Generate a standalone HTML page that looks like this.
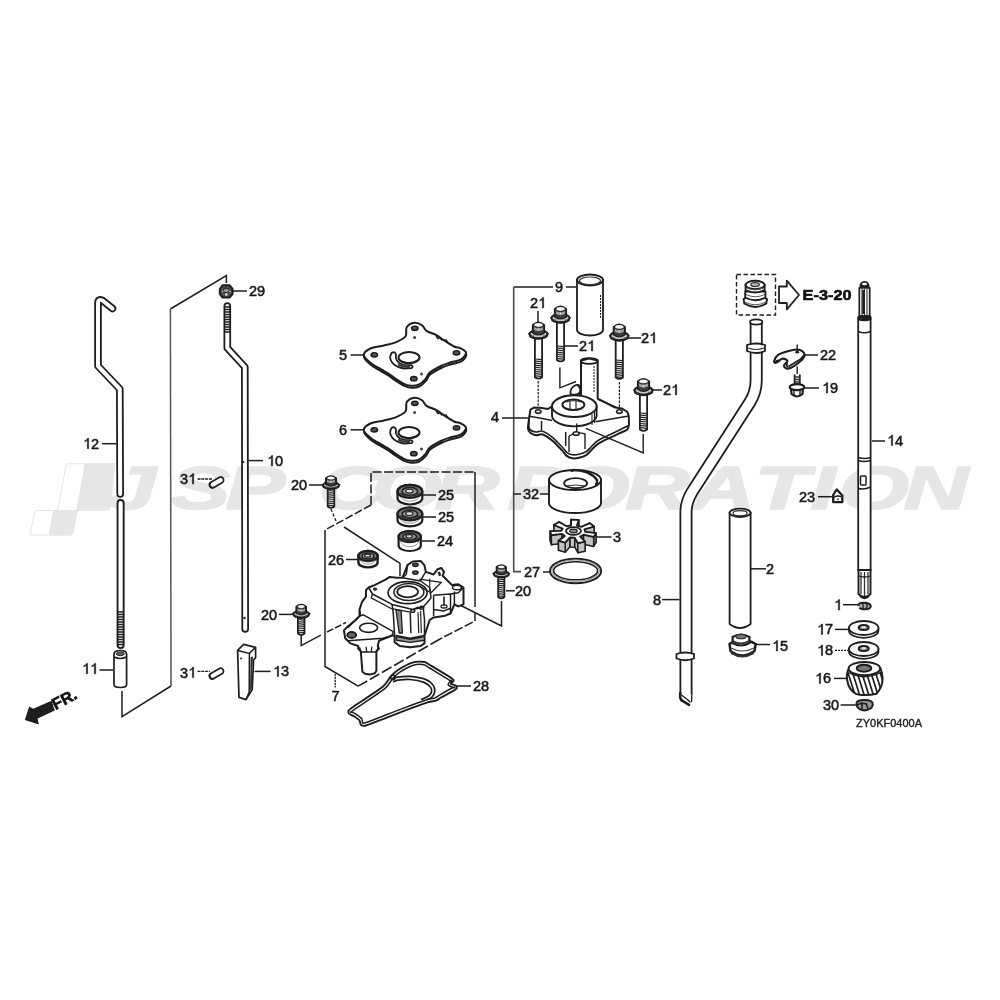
<!DOCTYPE html>
<html><head><meta charset="utf-8">
<style>
html,body{margin:0;padding:0;background:#fff;}
svg{display:block;filter:grayscale(1);}
.t{font-family:"Liberation Sans",sans-serif;font-size:14.5px;fill:#1a1a1a;text-anchor:middle;stroke:#1a1a1a;stroke-width:0.55;}
.l{stroke:#1e1e1e;stroke-width:1.5;fill:none;}
.o{stroke:#1e1e1e;stroke-width:1.7;fill:#fff;stroke-linejoin:round;}
.f{fill:#1e1e1e;stroke:none;}
</style></head>
<body>
<svg width="1000" height="1000" viewBox="0 0 1000 1000">
<rect width="1000" height="1000" fill="#fff"/>
<g fill="#e6e6e6" stroke="#e6e6e6" stroke-width="1.6" stroke-linejoin="round" font-family="Liberation Sans" font-weight="bold" font-style="italic" font-size="62">
<text transform="translate(318.3,509) scale(1.45,1)">C</text>
<text transform="translate(371.7,509) scale(1.45,1)">O</text>
<text transform="translate(434.4,509) scale(1.45,1)">R</text>
<text transform="translate(507.6,509) scale(1.45,1)">P</text>
<text transform="translate(559.7,509) scale(1.45,1)">O</text>
<text transform="translate(624.9,509) scale(1.45,1)">R</text>
<text transform="translate(690.3,509) scale(1.45,1)">A</text>
<text transform="translate(754.3,509) scale(1.45,1)">T</text>
<text transform="translate(810.4,509) scale(1.45,1)">I</text>
<text transform="translate(839.2,509) scale(1.45,1)">O</text>
<text transform="translate(903.5,509) scale(1.45,1)">N</text>
<text transform="translate(105.9,509) scale(1.45,1)">J</text>
<text transform="translate(170.3,509) scale(1.45,1)">S</text>
<text transform="translate(225.6,509) scale(1.45,1)">P</text>
<path d="M85.6,463.8 L114.4,463.8 L110.4,506 Q109.8,510.2 105.5,510.2 L77,510.2 L73,532 Q72.4,535 69,535 L49.6,535 L53.6,512.5 Q54,511 56,511 L77,511 Z"/>
</g>
<path d="M66.4,463.8 L85.6,463.8 L77,511 L56,511 Q54,511 53.6,512.5 L49.6,535 L30,535 L34.5,513 Q35,510.5 38,510.5 L57.5,510.5 Z" fill="none" stroke="#e2e2e2" stroke-width="0.9"/>
<path d="M112.5,308.5 L102.5,300.5 Q98,298.5 98,303 L98,366 L119.8,389 L120.2,494" stroke="#1e1e1e" stroke-width="7.6" fill="none" stroke-linecap="round" stroke-linejoin="round"/>
<path d="M112.5,308.5 L102.5,300.5 Q98,298.5 98,303 L98,366 L119.8,389 L120.2,494" stroke="#fff" stroke-width="4" fill="none" stroke-linecap="round" stroke-linejoin="round"/>
<path d="M120.6,503 L120.6,645" stroke="#1e1e1e" stroke-width="8" fill="none" stroke-linecap="round" stroke-linejoin="round"/>
<path d="M120.6,503 L120.6,645" stroke="#fff" stroke-width="4.2" fill="none" stroke-linecap="round" stroke-linejoin="round"/>
<path d="M117,612.0 h7 M117,614.5 h7 M117,617.0 h7 M117,619.5 h7 M117,622.0 h7 M117,624.5 h7 M117,627.0 h7 M117,629.5 h7 M117,632.0 h7 M117,634.5 h7 M117,637.0 h7 M117,639.5 h7 M117,642.0 h7 M117,644.5 h7" stroke="#1e1e1e" stroke-width="1.6" fill="none" />
<path d="M102,443.7 H116.5" stroke="#1e1e1e" stroke-width="1.5" fill="none" />
<path d="M114,654 Q114,650.5 120.3,650.5 Q126.6,650.5 126.6,654 L126.6,684.5 Q126.6,687.5 120.3,687.5 Q114,687.5 114,684.5 Z" class="o"/>
<ellipse cx="120.3" cy="653.8" rx="4.2" ry="1.8" fill="#666" stroke="#222" stroke-width="1"/>
<path d="M114.2,657 Q120.3,660 126.4,657" stroke="#1e1e1e" stroke-width="1.5" fill="none" />
<path d="M99.5,670 H113" stroke="#1e1e1e" stroke-width="1.5" fill="none" />
<path d="M226.4,283 L226.4,275.5 L170.4,309" stroke="#1e1e1e" stroke-width="1.5" fill="none" />
<path d="M170.4,309 L171,686" stroke="#555" stroke-width="1.5" fill="none"/>
<path d="M171,686 L122,716.6 L122,691" stroke="#1e1e1e" stroke-width="1.5" fill="none" />
<path d="M219.8,289 L222.5,285.3 L229.5,285.2 L232.6,289 L232.6,294 L229.5,297.6 L222.5,297.6 L219.8,294 Z" fill="#4a4a4a" stroke="#1e1e1e" stroke-width="2" stroke-linejoin="round"/>
<ellipse cx="226.2" cy="290.5" rx="3.2" ry="2" fill="#999" stroke="#222" stroke-width="1"/>
<circle cx="226.3" cy="294.5" r="1.2" fill="#eee"/><circle cx="222.5" cy="291.5" r="0.8" fill="#ccc"/><circle cx="230" cy="291.5" r="0.8" fill="#ccc"/>
<path d="M232.9,291 H247" stroke="#1e1e1e" stroke-width="1.5" fill="none" />
<path d="M227.3,306 L227.3,348 L244.8,367 L245.2,629" stroke="#1e1e1e" stroke-width="7.6" fill="none" stroke-linecap="round" stroke-linejoin="round"/>
<path d="M227.3,306 L227.3,348 L244.8,367 L245.2,629" stroke="#fff" stroke-width="4" fill="none" stroke-linecap="round" stroke-linejoin="round"/>
<path d="M224,307.0 h6.6 M224,309.5 h6.6 M224,312.0 h6.6 M224,314.5 h6.6 M224,317.0 h6.6 M224,319.5 h6.6 M224,322.0 h6.6 M224,324.5 h6.6 M224,327.0 h6.6 M224,329.5 h6.6 M224,332.0 h6.6" stroke="#1e1e1e" stroke-width="1.6" fill="none" />
<path d="M248.5,460.6 H263" stroke="#1e1e1e" stroke-width="1.5" fill="none" />
<circle cx="243.5" cy="462" r="1" class="f"/><circle cx="244.5" cy="618" r="1.2" class="f"/>
<g transform="translate(216.7,482.3) rotate(-30)"><rect x="-7.5" y="-3" width="15" height="6" rx="3" class="o" stroke-width="1.6"/><path d="M-5,-3 a3,3 0 0 0 0,6" class="l" stroke-width="2"/></g>
<g transform="translate(216.6,673.5) rotate(-30)"><rect x="-7.5" y="-3" width="15" height="6" rx="3" class="o" stroke-width="1.6"/><path d="M-5,-3 a3,3 0 0 0 0,6" class="l" stroke-width="2"/></g>
<path d="M197.5,479 H212" stroke="#1e1e1e" stroke-width="1.3" fill="none" stroke-dasharray="3 0.8"/>
<path d="M197.5,671.4 H210" stroke="#1e1e1e" stroke-width="1.3" fill="none" stroke-dasharray="3 0.8"/>
<path d="M237.6,650.4 L243.6,644.4 L255.6,647.4 L255.6,657.6 L253.6,660 L252.2,689.5 L246,699.6 L239,697.4 Z" class="o" stroke-width="1.9"/>
<path d="M237.6,650.4 L249.4,653.4 L255.6,647.4 M249.4,653.4 L249.2,692 L246,699.6" stroke="#1e1e1e" stroke-width="1.5" fill="none" />
<path d="M250.6,657 L253,656.5 L251.8,688 L250,691 Z" fill="#333"/>
<circle cx="241" cy="658.5" r="0.9" class="f"/>
<path d="M254.5,671.4 H270.6" stroke="#1e1e1e" stroke-width="1.5" fill="none" />
<path d="M24.8,720 L29.2,706.4 L33.2,708.8 L51.6,700.8 L54.8,710.4 L37.6,718.4 L38.8,724.4 Z" class="f"/>
<text x="0" y="0" transform="translate(55.5,710) rotate(-28)" font-family="Liberation Sans" font-weight="bold" font-size="16" fill="#111" stroke="#111" stroke-width="0.6">FR.</text>
<text class="t" x="252.97" y="296.0">2</text><text class="t" x="261.03" y="296.0">9</text>
<path d="M88.62,448.70 L88.62,438.32 L87.58,438.32 L87.14,439.13 L86.13,440.00 L84.82,440.65 L84.82,441.67 L86.13,441.09 L87.33,440.22 L87.33,448.70 Z" fill="#1a1a1a" stroke="#1a1a1a" stroke-width="0.55" stroke-linejoin="round"/><text class="t" x="95.03" y="448.7">2</text>
<path d="M272.62,466.00 L272.62,455.62 L271.58,455.62 L271.14,456.43 L270.13,457.30 L268.82,457.95 L268.82,458.97 L270.13,458.39 L271.33,457.52 L271.33,466.00 Z" fill="#1a1a1a" stroke="#1a1a1a" stroke-width="0.55" stroke-linejoin="round"/><text class="t" x="279.03" y="466.0">0</text>
<text class="t" x="183.97" y="484.0">3</text><path d="M193.68,484.00 L193.68,473.62 L192.64,473.62 L192.20,474.43 L191.19,475.30 L189.88,475.95 L189.88,476.97 L191.19,476.39 L192.39,475.52 L192.39,484.00 Z" fill="#1a1a1a" stroke="#1a1a1a" stroke-width="0.55" stroke-linejoin="round"/>
<text class="t" x="294.97" y="490.0">2</text><text class="t" x="303.03" y="490.0">0</text>
<text class="t" x="264.97" y="620.0">2</text><text class="t" x="273.03" y="620.0">0</text>
<path d="M87.62,673.80 L87.62,663.42 L86.58,663.42 L86.14,664.23 L85.13,665.10 L83.82,665.75 L83.82,666.77 L85.13,666.19 L86.33,665.32 L86.33,673.80 Z" fill="#1a1a1a" stroke="#1a1a1a" stroke-width="0.55" stroke-linejoin="round"/><path d="M95.68,673.80 L95.68,663.42 L94.64,663.42 L94.21,664.23 L93.19,665.10 L91.89,665.75 L91.89,666.77 L93.19,666.19 L94.39,665.32 L94.39,673.80 Z" fill="#1a1a1a" stroke="#1a1a1a" stroke-width="0.55" stroke-linejoin="round"/>
<text class="t" x="183.97" y="677.6">3</text><path d="M193.68,677.60 L193.68,667.22 L192.64,667.22 L192.20,668.03 L191.19,668.90 L189.88,669.55 L189.88,670.57 L191.19,669.99 L192.39,669.12 L192.39,677.60 Z" fill="#1a1a1a" stroke="#1a1a1a" stroke-width="0.55" stroke-linejoin="round"/>
<path d="M278.62,676.40 L278.62,666.02 L277.58,666.02 L277.14,666.83 L276.13,667.70 L274.82,668.35 L274.82,669.37 L276.13,668.79 L277.33,667.92 L277.33,676.40 Z" fill="#1a1a1a" stroke="#1a1a1a" stroke-width="0.55" stroke-linejoin="round"/><text class="t" x="285.03" y="676.4">3</text>
<text class="t" x="343.00" y="360.0">5</text>
<text class="t" x="343.00" y="435.0">6</text>
<text class="t" x="441.97" y="500.0">2</text><text class="t" x="450.03" y="500.0">5</text>
<text class="t" x="441.97" y="522.0">2</text><text class="t" x="450.03" y="522.0">5</text>
<text class="t" x="440.97" y="546.0">2</text><text class="t" x="449.03" y="546.0">4</text>
<text class="t" x="331.97" y="565.0">2</text><text class="t" x="340.03" y="565.0">6</text>
<text class="t" x="335.50" y="701.0">7</text>
<text class="t" x="476.97" y="691.0">2</text><text class="t" x="485.03" y="691.0">8</text>
<text class="t" x="559.00" y="292.0">9</text>
<text class="t" x="533.97" y="308.0">2</text><path d="M543.68,308.00 L543.68,297.62 L542.64,297.62 L542.20,298.43 L541.19,299.30 L539.88,299.95 L539.88,300.97 L541.19,300.39 L542.39,299.52 L542.39,308.00 Z" fill="#1a1a1a" stroke="#1a1a1a" stroke-width="0.55" stroke-linejoin="round"/>
<text class="t" x="582.97" y="351.0">2</text><path d="M592.68,351.00 L592.68,340.62 L591.64,340.62 L591.20,341.43 L590.19,342.30 L588.88,342.95 L588.88,343.97 L590.19,343.39 L591.39,342.52 L591.39,351.00 Z" fill="#1a1a1a" stroke="#1a1a1a" stroke-width="0.55" stroke-linejoin="round"/>
<text class="t" x="644.97" y="343.0">2</text><path d="M654.68,343.00 L654.68,332.62 L653.64,332.62 L653.20,333.43 L652.19,334.30 L650.88,334.95 L650.88,335.97 L652.19,335.39 L653.39,334.52 L653.39,343.00 Z" fill="#1a1a1a" stroke="#1a1a1a" stroke-width="0.55" stroke-linejoin="round"/>
<text class="t" x="666.97" y="395.0">2</text><path d="M676.68,395.00 L676.68,384.62 L675.64,384.62 L675.20,385.43 L674.19,386.30 L672.88,386.95 L672.88,387.97 L674.19,387.39 L675.39,386.52 L675.39,395.00 Z" fill="#1a1a1a" stroke="#1a1a1a" stroke-width="0.55" stroke-linejoin="round"/>
<text class="t" x="495.00" y="422.0">4</text>
<text class="t" x="526.97" y="499.0">3</text><text class="t" x="535.03" y="499.0">2</text>
<text class="t" x="617.00" y="542.0">3</text>
<text class="t" x="527.97" y="577.0">2</text><text class="t" x="536.03" y="577.0">7</text>
<text class="t" x="518.97" y="596.0">2</text><text class="t" x="527.03" y="596.0">0</text>
<text class="t" x="657.00" y="605.0">8</text>
<text class="t" x="770.00" y="574.0">2</text>
<path d="M777.62,651.00 L777.62,640.62 L776.58,640.62 L776.14,641.43 L775.13,642.30 L773.82,642.95 L773.82,643.97 L775.13,643.39 L776.33,642.52 L776.33,651.00 Z" fill="#1a1a1a" stroke="#1a1a1a" stroke-width="0.55" stroke-linejoin="round"/><text class="t" x="784.03" y="651.0">5</text>
<text class="t" x="823.97" y="360.0">2</text><text class="t" x="832.03" y="360.0">2</text>
<path d="M827.62,393.00 L827.62,382.62 L826.58,382.62 L826.14,383.43 L825.13,384.30 L823.82,384.95 L823.82,385.97 L825.13,385.39 L826.33,384.52 L826.33,393.00 Z" fill="#1a1a1a" stroke="#1a1a1a" stroke-width="0.55" stroke-linejoin="round"/><text class="t" x="834.03" y="393.0">9</text>
<path d="M892.62,445.50 L892.62,435.12 L891.58,435.12 L891.14,435.93 L890.13,436.80 L888.82,437.45 L888.82,438.47 L890.13,437.89 L891.33,437.02 L891.33,445.50 Z" fill="#1a1a1a" stroke="#1a1a1a" stroke-width="0.55" stroke-linejoin="round"/><text class="t" x="899.03" y="445.5">4</text>
<text class="t" x="802.97" y="502.0">2</text><text class="t" x="811.03" y="502.0">3</text>
<path d="M839.65,610.00 L839.65,599.62 L838.61,599.62 L838.17,600.43 L837.16,601.30 L835.85,601.95 L835.85,602.97 L837.16,602.39 L838.36,601.52 L838.36,610.00 Z" fill="#1a1a1a" stroke="#1a1a1a" stroke-width="0.55" stroke-linejoin="round"/>
<path d="M822.62,634.40 L822.62,624.02 L821.58,624.02 L821.14,624.83 L820.13,625.70 L818.82,626.35 L818.82,627.37 L820.13,626.79 L821.33,625.92 L821.33,634.40 Z" fill="#1a1a1a" stroke="#1a1a1a" stroke-width="0.55" stroke-linejoin="round"/><text class="t" x="829.03" y="634.4">7</text>
<path d="M822.62,655.40 L822.62,645.02 L821.58,645.02 L821.14,645.83 L820.13,646.70 L818.82,647.35 L818.82,648.37 L820.13,647.79 L821.33,646.92 L821.33,655.40 Z" fill="#1a1a1a" stroke="#1a1a1a" stroke-width="0.55" stroke-linejoin="round"/><text class="t" x="829.03" y="655.4">8</text>
<path d="M820.62,683.40 L820.62,673.02 L819.58,673.02 L819.14,673.83 L818.13,674.70 L816.82,675.35 L816.82,676.37 L818.13,675.79 L819.33,674.92 L819.33,683.40 Z" fill="#1a1a1a" stroke="#1a1a1a" stroke-width="0.55" stroke-linejoin="round"/><text class="t" x="827.03" y="683.4">6</text>
<text class="t" x="826.97" y="710.0">3</text><text class="t" x="835.03" y="710.0">0</text>
<text x="856" y="726.5" font-family="Liberation Sans" font-size="11" fill="#1a1a1a" stroke="#1a1a1a" stroke-width="0.35" textLength="66" lengthAdjust="spacingAndGlyphs">ZY0KF0400A</text>
<text x="802.6" y="300.2" font-family="Liberation Sans" font-weight="bold" font-size="15" fill="#111" stroke="#111" stroke-width="0.6" textLength="49" lengthAdjust="spacingAndGlyphs">E-3-20</text>
<g transform="translate(0,0)">
<path d="M363.8,355.0 C363.8,352.6 367.0,350.1 370.4,348.5 C373.8,346.9 379.6,346.6 384.0,345.5 C388.4,344.4 393.2,343.3 396.8,341.8 C400.4,340.3 403.9,338.8 405.6,336.3 C407.3,333.8 405.3,329.3 406.8,327.0 C408.3,324.7 411.9,323.0 414.4,322.7 C416.9,322.4 420.0,323.9 422.0,325.3 C424.0,326.7 424.1,329.2 426.5,330.8 C428.9,332.4 433.6,333.7 436.4,335.2 C439.1,336.7 440.1,337.7 443.0,339.6 C445.9,341.5 451.1,345.1 454.0,346.5 C456.9,347.9 458.6,347.2 460.6,348.3 C462.6,349.4 465.9,351.0 466.0,352.8 C466.1,354.6 463.7,357.8 461.0,359.4 C458.3,361.0 453.4,361.4 450.0,362.5 C446.6,363.6 444.2,364.3 440.8,366.0 C437.4,367.7 432.4,370.4 429.8,372.6 C427.2,374.8 427.2,377.2 425.4,379.2 C423.6,381.2 421.2,383.6 418.8,384.7 C416.4,385.8 413.6,386.0 411.0,385.8 C408.4,385.6 406.1,384.9 403.4,383.6 C400.7,382.3 396.8,379.6 394.6,378.1 C392.4,376.6 392.8,376.5 390.2,374.8 C387.6,373.1 382.5,370.2 379.2,368.2 C375.9,366.2 373.0,364.9 370.4,362.7 C367.8,360.5 363.8,357.4 363.8,355.0 Z" transform="translate(0.3,2)" fill="#fff" stroke="#1e1e1e" stroke-width="2" stroke-linejoin="round"/>
<path d="M363.8,355.0 C363.8,352.6 367.0,350.1 370.4,348.5 C373.8,346.9 379.6,346.6 384.0,345.5 C388.4,344.4 393.2,343.3 396.8,341.8 C400.4,340.3 403.9,338.8 405.6,336.3 C407.3,333.8 405.3,329.3 406.8,327.0 C408.3,324.7 411.9,323.0 414.4,322.7 C416.9,322.4 420.0,323.9 422.0,325.3 C424.0,326.7 424.1,329.2 426.5,330.8 C428.9,332.4 433.6,333.7 436.4,335.2 C439.1,336.7 440.1,337.7 443.0,339.6 C445.9,341.5 451.1,345.1 454.0,346.5 C456.9,347.9 458.6,347.2 460.6,348.3 C462.6,349.4 465.9,351.0 466.0,352.8 C466.1,354.6 463.7,357.8 461.0,359.4 C458.3,361.0 453.4,361.4 450.0,362.5 C446.6,363.6 444.2,364.3 440.8,366.0 C437.4,367.7 432.4,370.4 429.8,372.6 C427.2,374.8 427.2,377.2 425.4,379.2 C423.6,381.2 421.2,383.6 418.8,384.7 C416.4,385.8 413.6,386.0 411.0,385.8 C408.4,385.6 406.1,384.9 403.4,383.6 C400.7,382.3 396.8,379.6 394.6,378.1 C392.4,376.6 392.8,376.5 390.2,374.8 C387.6,373.1 382.5,370.2 379.2,368.2 C375.9,366.2 373.0,364.9 370.4,362.7 C367.8,360.5 363.8,357.4 363.8,355.0 Z" fill="#fff" stroke="#1e1e1e" stroke-width="2" stroke-linejoin="round"/>
<path d="M436,336 l2,2.5 l2,-1 l2,3 M444,341 l2,-1 l2,3 M380,369 l1.5,2.5 l2,-1.5 M392,376 l1,3 l2,-1" fill="none" stroke="#1e1e1e" stroke-width="1.4"/>
<ellipse cx="374.3" cy="354.8" rx="3.2" ry="2.1" fill="#555" stroke="#1e1e1e" stroke-width="1.6"/>
<ellipse cx="456.5" cy="352.8" rx="3.2" ry="2.1" fill="#555" stroke="#1e1e1e" stroke-width="1.6"/>
<ellipse cx="414.8" cy="328.3" rx="3.2" ry="2.1" fill="#555" stroke="#1e1e1e" stroke-width="1.6"/>
<ellipse cx="413.8" cy="378.7" rx="3.2" ry="2.1" fill="#555" stroke="#1e1e1e" stroke-width="1.6"/>
<circle cx="414.6" cy="337.6" r="1.5" fill="#444"/><circle cx="421.5" cy="374" r="1.5" fill="#444"/>
<ellipse cx="409" cy="357.6" rx="10.5" ry="5.7" fill="#fff" stroke="#1e1e1e" stroke-width="2"/>
<path d="M399,360 Q409,366.5 419.5,359" fill="none" stroke="#1e1e1e" stroke-width="1.6"/>
<path d="M391.5,353 C388,359 392,366.5 404,368.5 L411.5,368.2 Q414,366.5 411,365.2 L404.5,364.8 C397,363.5 395,358.5 396,354.5 Q395,351 391.5,353 Z" fill="#fff" stroke="#1e1e1e" stroke-width="1.8" stroke-linejoin="round"/>
<path d="M398,364.5 Q402,367 410,367" fill="none" stroke="#333" stroke-width="2"/>
</g>
<g transform="translate(0,75)">
<path d="M363.8,355.0 C363.8,352.6 367.0,350.1 370.4,348.5 C373.8,346.9 379.6,346.6 384.0,345.5 C388.4,344.4 393.2,343.3 396.8,341.8 C400.4,340.3 403.9,338.8 405.6,336.3 C407.3,333.8 405.3,329.3 406.8,327.0 C408.3,324.7 411.9,323.0 414.4,322.7 C416.9,322.4 420.0,323.9 422.0,325.3 C424.0,326.7 424.1,329.2 426.5,330.8 C428.9,332.4 433.6,333.7 436.4,335.2 C439.1,336.7 440.1,337.7 443.0,339.6 C445.9,341.5 451.1,345.1 454.0,346.5 C456.9,347.9 458.6,347.2 460.6,348.3 C462.6,349.4 465.9,351.0 466.0,352.8 C466.1,354.6 463.7,357.8 461.0,359.4 C458.3,361.0 453.4,361.4 450.0,362.5 C446.6,363.6 444.2,364.3 440.8,366.0 C437.4,367.7 432.4,370.4 429.8,372.6 C427.2,374.8 427.2,377.2 425.4,379.2 C423.6,381.2 421.2,383.6 418.8,384.7 C416.4,385.8 413.6,386.0 411.0,385.8 C408.4,385.6 406.1,384.9 403.4,383.6 C400.7,382.3 396.8,379.6 394.6,378.1 C392.4,376.6 392.8,376.5 390.2,374.8 C387.6,373.1 382.5,370.2 379.2,368.2 C375.9,366.2 373.0,364.9 370.4,362.7 C367.8,360.5 363.8,357.4 363.8,355.0 Z" transform="translate(0.3,2)" fill="#fff" stroke="#1e1e1e" stroke-width="2" stroke-linejoin="round"/>
<path d="M363.8,355.0 C363.8,352.6 367.0,350.1 370.4,348.5 C373.8,346.9 379.6,346.6 384.0,345.5 C388.4,344.4 393.2,343.3 396.8,341.8 C400.4,340.3 403.9,338.8 405.6,336.3 C407.3,333.8 405.3,329.3 406.8,327.0 C408.3,324.7 411.9,323.0 414.4,322.7 C416.9,322.4 420.0,323.9 422.0,325.3 C424.0,326.7 424.1,329.2 426.5,330.8 C428.9,332.4 433.6,333.7 436.4,335.2 C439.1,336.7 440.1,337.7 443.0,339.6 C445.9,341.5 451.1,345.1 454.0,346.5 C456.9,347.9 458.6,347.2 460.6,348.3 C462.6,349.4 465.9,351.0 466.0,352.8 C466.1,354.6 463.7,357.8 461.0,359.4 C458.3,361.0 453.4,361.4 450.0,362.5 C446.6,363.6 444.2,364.3 440.8,366.0 C437.4,367.7 432.4,370.4 429.8,372.6 C427.2,374.8 427.2,377.2 425.4,379.2 C423.6,381.2 421.2,383.6 418.8,384.7 C416.4,385.8 413.6,386.0 411.0,385.8 C408.4,385.6 406.1,384.9 403.4,383.6 C400.7,382.3 396.8,379.6 394.6,378.1 C392.4,376.6 392.8,376.5 390.2,374.8 C387.6,373.1 382.5,370.2 379.2,368.2 C375.9,366.2 373.0,364.9 370.4,362.7 C367.8,360.5 363.8,357.4 363.8,355.0 Z" fill="#fff" stroke="#1e1e1e" stroke-width="2" stroke-linejoin="round"/>
<path d="M436,336 l2,2.5 l2,-1 l2,3 M444,341 l2,-1 l2,3 M380,369 l1.5,2.5 l2,-1.5 M392,376 l1,3 l2,-1" fill="none" stroke="#1e1e1e" stroke-width="1.4"/>
<ellipse cx="374.3" cy="354.8" rx="3.2" ry="2.1" fill="#555" stroke="#1e1e1e" stroke-width="1.6"/>
<ellipse cx="456.5" cy="352.8" rx="3.2" ry="2.1" fill="#555" stroke="#1e1e1e" stroke-width="1.6"/>
<ellipse cx="414.8" cy="328.3" rx="3.2" ry="2.1" fill="#555" stroke="#1e1e1e" stroke-width="1.6"/>
<ellipse cx="413.8" cy="378.7" rx="3.2" ry="2.1" fill="#555" stroke="#1e1e1e" stroke-width="1.6"/>
<circle cx="414.6" cy="337.6" r="1.5" fill="#444"/><circle cx="421.5" cy="374" r="1.5" fill="#444"/>
<ellipse cx="409" cy="357.6" rx="10.5" ry="5.7" fill="#fff" stroke="#1e1e1e" stroke-width="2"/>
<path d="M399,360 Q409,366.5 419.5,359" fill="none" stroke="#1e1e1e" stroke-width="1.6"/>
<path d="M391.5,353 C388,359 392,366.5 404,368.5 L411.5,368.2 Q414,366.5 411,365.2 L404.5,364.8 C397,363.5 395,358.5 396,354.5 Q395,351 391.5,353 Z" fill="#fff" stroke="#1e1e1e" stroke-width="1.8" stroke-linejoin="round"/>
<path d="M398,364.5 Q402,367 410,367" fill="none" stroke="#333" stroke-width="2"/>
</g>
<path d="M350.6,355 H363.5" stroke="#1e1e1e" stroke-width="1.5" fill="none" />
<path d="M350.6,429.8 H363" stroke="#1e1e1e" stroke-width="1.5" fill="none" />
<path d="M371,505 L371,472 L475,472" stroke="#1e1e1e" stroke-width="1.5" fill="none" stroke-dasharray="9 2.5"/>
<path d="M475,472 L475,607" stroke="#1e1e1e" stroke-width="1.5" fill="none" />
<path d="M475,612 L475,621 L440,639" stroke="#1e1e1e" stroke-width="1.5" fill="none" stroke-dasharray="9 2.5"/>
<path d="M440,639 L358.2,686.2" stroke="#1e1e1e" stroke-width="1.5" fill="none" stroke-dasharray="11 3"/>
<path d="M371,505 L325,530" stroke="#1e1e1e" stroke-width="1.5" fill="none" stroke-dasharray="8 2.5"/>
<path d="M325,530 L325,666.5 L358.2,686.2" stroke="#1e1e1e" stroke-width="1.5" fill="none" />
<path d="M335.2,674 L335.2,687.5" stroke="#1e1e1e" stroke-width="1.3" fill="none" stroke-dasharray="2.2 0.8"/>
<path d="M331,509 L336,521" stroke="#1e1e1e" stroke-width="1.3" fill="none" stroke-dasharray="3 2"/>
<path d="M344,527 L400,563.4 L400,576" stroke="#1e1e1e" stroke-width="1.5" fill="none" />
<path d="M301.2,635.2 L301.2,645.6 L320.8,635.2" stroke="#1e1e1e" stroke-width="1.5" fill="none" />
<path d="M327,632 L346,622.5" stroke="#1e1e1e" stroke-width="1.5" fill="none" stroke-dasharray="7 2"/>
<path d="M501.5,601 L501.5,626 L448,599" stroke="#1e1e1e" stroke-width="1.5" fill="none" />
<path d="M327.7,488.5 L327.7,506.5 Q331,509.2 334.3,506.5 L334.3,488.5" fill="#fff" stroke="#1e1e1e" stroke-width="1.8"/><path d="M328.09999999999997,490.5 L333.90000000000003,491.1 M328.09999999999997,492.6 L333.90000000000003,493.2 M328.09999999999997,494.7 L333.90000000000003,495.3 M328.09999999999997,496.8 L333.90000000000003,497.4 M328.09999999999997,498.9 L333.90000000000003,499.5 M328.09999999999997,501.0 L333.90000000000003,501.6 M328.09999999999997,503.1 L333.90000000000003,503.7 M328.09999999999997,505.2 L333.90000000000003,505.8" stroke="#222" stroke-width="1.2"/><path d="M323,485.2 L324,487.2 Q331,490.7 338,487.2 L339,485.2 Z" fill="#fff" stroke="#1e1e1e" stroke-width="2"/><ellipse cx="331" cy="485.2" rx="8" ry="3.3" fill="#c8c8c8" stroke="#1e1e1e" stroke-width="2"/><path d="M326.0,478.2 L326.0,484.1 Q331,487.2 336.0,484.1 L336.0,478.2 Q331,474.3 326.0,478.2 Z" fill="#a0a0a0" stroke="#1e1e1e" stroke-width="2"/><ellipse cx="331" cy="478.3" rx="3.6" ry="1.7" fill="#f4f4f4"/><path d="M330.2,480.9 L331.8,480.9 L331,482.9 Z" fill="#eee"/><path d="M326.5,481.7 Q331,484.4 335.5,481.7 L335.5,484.1 Q331,487.2 326.5,484.1 Z" fill="#3a3a3a"/><path d="M326.8,479.0 Q331,481.3 335.2,479.0" fill="none" stroke="#333" stroke-width="1.3"/><path d="M324.5,486.4 Q327.0,488.2 326.0,486.7 M337.5,486.4 Q335.0,488.2 336.0,486.7" fill="none" stroke="#444" stroke-width="1.2"/>
<path d="M297.9,617.5 L297.9,633.5 Q301.2,636.2 304.5,633.5 L304.5,617.5" fill="#fff" stroke="#1e1e1e" stroke-width="1.8"/><path d="M298.29999999999995,619.5 L304.1,620.1 M298.29999999999995,621.6 L304.1,622.2 M298.29999999999995,623.7 L304.1,624.3 M298.29999999999995,625.8 L304.1,626.4 M298.29999999999995,627.9 L304.1,628.5 M298.29999999999995,630.0 L304.1,630.6 M298.29999999999995,632.1 L304.1,632.7" stroke="#222" stroke-width="1.2"/><path d="M293.4,614.1 L294.4,616.1 Q301.2,619.7 308.0,616.1 L309.0,614.1 Z" fill="#fff" stroke="#1e1e1e" stroke-width="2"/><ellipse cx="301.2" cy="614.1" rx="7.8" ry="3.4" fill="#c8c8c8" stroke="#1e1e1e" stroke-width="2"/><path d="M296.4,606.8 L296.4,612.9 Q301.2,616.1 306.0,612.9 L306.0,606.8 Q301.2,602.8 296.4,606.8 Z" fill="#a0a0a0" stroke="#1e1e1e" stroke-width="2"/><ellipse cx="301.2" cy="606.9" rx="3.4" ry="1.8" fill="#f4f4f4"/><path d="M300.4,609.6 L302.0,609.6 L301.2,611.7 Z" fill="#eee"/><path d="M296.9,610.4 Q301.2,613.3 305.5,610.4 L305.5,612.9 Q301.2,616.1 296.9,612.9 Z" fill="#3a3a3a"/><path d="M297.2,607.6 Q301.2,610.0 305.2,607.6" fill="none" stroke="#333" stroke-width="1.3"/><path d="M294.9,615.3 Q297.3,617.1 296.4,615.6 M307.5,615.3 Q305.1,617.1 306.0,615.6" fill="none" stroke="#444" stroke-width="1.2"/>
<path d="M498.2,577.0 L498.2,597.0 Q501.3,599.7 504.40000000000003,597.0 L504.40000000000003,577.0" fill="#fff" stroke="#1e1e1e" stroke-width="1.8"/><path d="M498.59999999999997,579.0 L504.00000000000006,579.6 M498.59999999999997,581.1 L504.00000000000006,581.7 M498.59999999999997,583.2 L504.00000000000006,583.8 M498.59999999999997,585.3 L504.00000000000006,585.9 M498.59999999999997,587.4 L504.00000000000006,588.0 M498.59999999999997,589.5 L504.00000000000006,590.1 M498.59999999999997,591.6 L504.00000000000006,592.2 M498.59999999999997,593.7 L504.00000000000006,594.3 M498.59999999999997,595.8 L504.00000000000006,596.4" stroke="#222" stroke-width="1.2"/><path d="M493.90000000000003,573.9 L494.90000000000003,575.8 Q501.3,579.1 507.7,575.8 L508.7,573.9 Z" fill="#fff" stroke="#1e1e1e" stroke-width="2"/><ellipse cx="501.3" cy="573.9" rx="7.4" ry="3.2" fill="#c8c8c8" stroke="#1e1e1e" stroke-width="2"/><path d="M496.7,567.1 L496.7,572.8 Q501.3,575.8 505.9,572.8 L505.9,567.1 Q501.3,563.4 496.7,567.1 Z" fill="#a0a0a0" stroke="#1e1e1e" stroke-width="2"/><ellipse cx="501.3" cy="567.2" rx="3.2" ry="1.7" fill="#f4f4f4"/><path d="M500.5,569.8 L502.1,569.8 L501.3,571.6 Z" fill="#eee"/><path d="M497.2,570.5 Q501.3,573.1 505.4,570.5 L505.4,572.8 Q501.3,575.8 497.2,572.8 Z" fill="#3a3a3a"/><path d="M497.5,567.9 Q501.3,570.1 505.1,567.9" fill="none" stroke="#333" stroke-width="1.3"/><path d="M495.4,575.1 Q497.6,576.7 496.7,575.4 M507.2,575.1 Q505.0,576.7 505.9,575.4" fill="none" stroke="#444" stroke-width="1.2"/>
<path d="M309,485 H323" stroke="#1e1e1e" stroke-width="1.5" fill="none" />
<path d="M279,614.4 H293.5" stroke="#1e1e1e" stroke-width="1.5" fill="none" />
<path d="M506,590.8 H514.8" stroke="#1e1e1e" stroke-width="1.5" fill="none" />
<path d="M397.5,491.4 L397.5,497.9 A12.4,6.6 0 0 0 422.29999999999995,497.9 L422.29999999999995,491.4 A12.4,6.6 0 0 0 397.5,491.4 Z" fill="#fff" stroke="#1e1e1e" stroke-width="2.2"/>
<path d="M399.5,494.65 A10.4,6.6 0 0 0 420.29999999999995,494.65" fill="none" stroke="#999" stroke-width="1"/>
<ellipse cx="409.9" cy="491.4" rx="12.4" ry="6.6" fill="#7a7a7a" stroke="#1e1e1e" stroke-width="2.2"/>
<ellipse cx="409.9" cy="491.4" rx="7.7" ry="4.0" fill="#9a9a9a" stroke="#222" stroke-width="1.6"/>
<ellipse cx="409.4" cy="491.09999999999997" rx="3.7" ry="2.0" fill="#ddd" stroke="#222" stroke-width="1.2"/>
<path d="M400.0,493.4 Q409.9,498.7 419.8,493.4" fill="none" stroke="#333" stroke-width="1.4"/>
<path d="M397.5,513.9 L397.5,519.9 A12.4,6.4 0 0 0 422.29999999999995,519.9 L422.29999999999995,513.9 A12.4,6.4 0 0 0 397.5,513.9 Z" fill="#fff" stroke="#1e1e1e" stroke-width="2.2"/>
<path d="M399.5,516.9 A10.4,6.4 0 0 0 420.29999999999995,516.9" fill="none" stroke="#999" stroke-width="1"/>
<ellipse cx="409.9" cy="513.9" rx="12.4" ry="6.4" fill="#7a7a7a" stroke="#1e1e1e" stroke-width="2.2"/>
<ellipse cx="409.9" cy="513.9" rx="7.7" ry="3.8" fill="#9a9a9a" stroke="#222" stroke-width="1.6"/>
<ellipse cx="409.4" cy="513.6" rx="3.7" ry="1.9" fill="#ddd" stroke="#222" stroke-width="1.2"/>
<path d="M400.0,515.8 Q409.9,520.9 419.8,515.8" fill="none" stroke="#333" stroke-width="1.4"/>
<path d="M398.59999999999997,536.6 L398.59999999999997,545.4 A11.1,5.6 0 0 0 420.8,545.4 L420.8,536.6 A11.1,5.6 0 0 0 398.59999999999997,536.6 Z" fill="#fff" stroke="#1e1e1e" stroke-width="2.2"/>
<path d="M400.59999999999997,541.0 A9.1,5.6 0 0 0 418.8,541.0" fill="none" stroke="#999" stroke-width="1"/>
<ellipse cx="409.7" cy="536.6" rx="11.1" ry="5.6" fill="#6f6f6f" stroke="#1e1e1e" stroke-width="2.2"/>
<ellipse cx="409.7" cy="536.6" rx="6.9" ry="3.4" fill="#9a9a9a" stroke="#222" stroke-width="1.6"/>
<ellipse cx="409.2" cy="536.3000000000001" rx="3.3" ry="1.7" fill="#ddd" stroke="#222" stroke-width="1.2"/>
<path d="M400.8,538.3 Q409.7,542.8 418.6,538.3" fill="none" stroke="#333" stroke-width="1.4"/>
<path d="M358.4,556 L358.4,562.4 A9.6,5 0 0 0 377.6,562.4 L377.6,556 A9.6,5 0 0 0 358.4,556 Z" fill="#fff" stroke="#1e1e1e" stroke-width="2.4"/>
<path d="M360.4,559.2 A7.6,5 0 0 0 375.6,559.2" fill="none" stroke="#999" stroke-width="1"/>
<ellipse cx="368" cy="556" rx="9.6" ry="5" fill="#808080" stroke="#1e1e1e" stroke-width="2.4"/>
<ellipse cx="368" cy="556" rx="6.0" ry="3.0" fill="#9a9a9a" stroke="#222" stroke-width="1.6"/>
<ellipse cx="367.5" cy="555.7" rx="2.9" ry="1.5" fill="#ddd" stroke="#222" stroke-width="1.2"/>
<path d="M360.3,557.5 Q368,561.5 375.7,557.5" fill="none" stroke="#333" stroke-width="1.4"/>
<path d="M423,495 H436" stroke="#1e1e1e" stroke-width="1.5" fill="none" />
<path d="M423,517 H436" stroke="#1e1e1e" stroke-width="1.5" fill="none" />
<path d="M422,541 H435" stroke="#1e1e1e" stroke-width="1.5" fill="none" />
<path d="M346,559.5 H358.5" stroke="#1e1e1e" stroke-width="1.5" fill="none" />
<path d="M407.6,564.8 L412.8,561.5 L420.6,560.9 L424.5,565.4 L425.8,571.9 L433.6,574.5 L437.5,569.3 L441.4,568.0 L444.0,571.9 L442.7,575.8 L446.6,579.7 L451.8,584.9 L458.3,584.3 L463.5,587.5 L463.5,604.4 L458.3,606.4 L454.4,604.4 L450.5,613.5 L444.0,616.1 L433.6,617.4 L429.7,620.0 L427.1,627.8 L424.5,635.6 L424.5,643.4 L420.6,646.0 L410.2,647.3 L399.8,646.0 L394.6,642.1 L394.6,635.6 L392.0,635.6 L379.0,640.8 L377.7,646.0 L379.0,648.6 L376.4,651.2 L376.4,670.7 L374.8,673.3 L369.9,674.6 L365.0,673.8 L362.4,671.7 L360.8,651.2 L358.2,648.6 L358.2,646.0 L350.4,643.4 L345.2,638.2 L343.9,630.4 L347.8,626.5 L355.6,620.0 L359.5,616.1 L359.5,609.6 L362.1,601.8 L366.0,596.6 L366.0,590.1 L368.6,587.5 L375.1,584.9 L385.5,579.7 L389.4,577.1 L397.2,577.8 L402.4,577.8 Z" fill="#fff" stroke="#1e1e1e" stroke-width="2" stroke-linejoin="round"/>
<g fill="none" stroke="#1e1e1e" stroke-width="1.5" stroke-linejoin="round">
<path d="M368.6,587.5 L372.5,594.0 L392.0,604.4 L412.8,609.6 L423.2,607.0 L431.0,597.9 L429.7,587.5 L420.6,581.0 L402.4,577.8"/>
<path d="M372.5,594.0 L371.2,597.9 L390.7,608.3 L410.2,612.2" stroke-width="1.3"/>
<ellipse cx="407.6" cy="592.7" rx="19.5" ry="11" stroke-width="1.7"/>
<ellipse cx="408.9" cy="592.1" rx="15" ry="8.5" stroke-width="1.5"/>
<ellipse cx="407.6" cy="591.7" rx="10.4" ry="5.6" stroke-width="1.8"/>
<path d="M392.0,604.4 L393.3,613.5 L394.6,635.6"/>
<path d="M410.2,612.2 L410.9,633.0"/>
<path d="M423.2,607.0 L424.5,620.0 L424.5,635.6"/>
<path d="M395.9,635.6 L410.2,638.2 L424.5,635.6"/>
<path d="M396.2,636.6 L410.2,639.2 L424.5,636.6 L424.5,640.2 L410.2,642.4 L396.6,640.2 Z" fill="#9a9a9a" stroke-width="1.4"/>
<path d="M395.9,609.6 L401.1,610.9 L402.4,633.0 L399.2,633.0 Z" fill="#8a8a8a" stroke-width="1.3"/>
<path d="M418.0,612.2 L418.7,633.0 M420.6,610.9 L421.3,633.0" stroke-width="1.2"/>
<ellipse cx="375.1" cy="589.1" rx="1.8" ry="1.2" fill="#444" stroke-width="1"/>
<path d="M412.8,609.6 L418.0,607.0 L420.6,609.6" stroke-width="1.2"/>
<ellipse cx="412.8" cy="610.9" rx="2" ry="1.4" stroke-width="1.4"/>
<ellipse cx="421.9" cy="607.7" rx="2" ry="1.4" stroke-width="1.4"/>
<path d="M347.8,627.8 L359.5,616.1 L363.4,614.8 L393.3,631.7 L392.0,635.6"/>
<path d="M345.2,638.2 L347.8,640.8 L382.9,638.2 L392.0,635.6"/>
<ellipse cx="368.6" cy="627.8" rx="9" ry="4.6" stroke-width="1.6"/>
<ellipse cx="351.7" cy="635.0" rx="4.5" ry="3" fill="#666" stroke-width="1.8"/>
<path d="M359.5,609.6 L360.8,616.1" stroke-width="1.3"/>
<path d="M359.5,647.3 L360.8,651.9 L376.4,651.9 L378.4,647.3" stroke-width="1.5"/>
<path d="M366.0,646.7 L366.7,651.9 M371.9,646.7 L371.2,651.9" stroke-width="1.2"/>
<path d="M433.6,595.3 L433.6,616.1 M433.6,595.3 L450.5,594.0 L450.5,613.5 M433.6,609.6 L444.0,610.9 L450.5,608.3"/>
<path d="M444.0,596.6 L444.0,605.7" stroke-width="1.6"/>
<ellipse cx="444.0" cy="606.4" rx="3" ry="1.6" stroke-width="1.3"/>
<path d="M450.5,594.0 L458.3,592.7 L463.5,587.5 M454.4,591.4 L454.4,604.4"/>
<ellipse cx="457.0" cy="587.5" rx="4.5" ry="2.3" stroke-width="1.5"/>
<ellipse cx="415.4" cy="564.8" rx="2.6" ry="1.6" fill="#666" stroke-width="1.6"/>
<ellipse cx="415.4" cy="572.6" rx="2.6" ry="1.6" fill="#666" stroke-width="1.6"/>
<path d="M407.6,564.8 L406.3,574.5 L402.4,577.8 M425.8,571.9 L423.2,575.8 L420.6,581.0"/>
<path d="M419.3,579.1 L441.4,582.3 L431.0,592.7 L419.3,586.2" stroke-width="1.3"/>
<path d="M429.7,578.4 L429.7,591.4" stroke-width="1.1"/>
<path d="M438.8,571.9 L440.1,575.8" stroke-width="2.4"/>
</g>
<path d="M412.4,662.6 C415.5,661.7 422.2,661.6 424.4,662.0 C426.6,662.4 427.8,663.7 431.0,665.6 C434.2,667.5 449.4,676.7 452.0,678.5 C454.6,680.3 453.7,680.4 453.5,681.0 C453.3,681.6 450.2,682.9 450.5,683.5 C450.8,684.1 455.8,685.3 456.4,686.0 C457.0,686.7 457.3,688.2 455.5,689.5 C453.7,690.8 443.3,696.2 441.0,697.5 C438.7,698.8 437.6,700.0 436.0,700.6 C434.4,701.2 431.1,701.3 427.6,702.4 C424.1,703.5 411.0,708.3 406.0,710.2 C401.0,712.1 389.7,716.5 385.0,718.3 C380.3,720.1 368.8,724.7 366.0,725.5 C363.2,726.3 361.8,725.6 361.0,725.0 C360.2,724.4 360.3,721.5 359.5,720.5 C358.7,719.5 355.2,717.1 354.0,716.3 C352.8,715.5 349.6,714.3 349.0,713.7 C348.4,713.1 348.0,711.6 348.5,710.8 C349.0,710.0 349.0,709.8 353.0,707.0 C357.0,704.2 378.6,690.0 383.0,686.4 C387.4,682.8 388.9,678.4 390.7,676.5 C392.4,674.6 395.5,671.6 398.0,670.0 C400.5,668.4 409.3,663.5 412.4,662.6 Z" fill="none" stroke="#1e1e1e" stroke-width="1.9" stroke-linejoin="round"/>
<path d="M413.2,665.3 C416.1,664.4 422.0,664.4 424.0,664.8 C425.9,665.1 426.5,666.1 429.6,668.0 C432.7,669.9 447.9,679.4 450.4,680.8 C452.9,682.2 451.1,679.7 450.8,680.2 C450.5,680.7 447.7,684.0 448.1,684.9 C448.5,685.8 453.6,687.5 454.2,687.8 C454.9,688.1 455.5,686.4 453.8,687.3 C452.1,688.1 441.8,693.8 439.6,695.1 C437.4,696.3 436.5,697.4 435.0,698.0 C433.5,698.5 430.2,698.6 426.7,699.7 C423.2,700.9 410.0,705.7 405.0,707.6 C400.0,709.4 388.6,713.9 384.0,715.7 C379.4,717.5 367.7,722.0 365.2,722.8 C362.8,723.6 363.1,723.3 362.7,722.8 C362.3,722.3 362.5,719.8 361.7,718.7 C360.8,717.7 356.8,714.8 355.5,713.9 C354.3,713.1 351.5,711.9 351.0,711.7 C350.4,711.5 350.5,712.5 350.9,712.2 C351.3,712.0 350.7,712.0 354.6,709.3 C358.6,706.5 380.3,692.2 384.8,688.6 C389.2,685.0 391.0,680.3 392.8,678.4 C394.5,676.5 397.1,673.9 399.5,672.4 C401.9,670.8 410.4,666.2 413.2,665.3 Z" fill="none" stroke="#1e1e1e" stroke-width="1.5" stroke-linejoin="round"/>
<path d="M391.0,679.5 C391.7,679.2 393.5,677.8 396.0,677.4 C398.5,677.0 406.0,676.1 410.0,676.4 C414.0,676.7 422.9,678.4 426.0,679.6 C429.1,680.8 432.0,683.6 433.2,685.2 C434.4,686.8 435.0,690.0 434.8,691.6 C434.6,693.2 433.0,695.9 432.0,697.0 C431.0,698.1 427.7,699.4 427.0,699.8 " fill="none" stroke="#1e1e1e" stroke-width="1.7"/>
<path d="M393.0,682.0 C393.7,681.8 395.7,680.5 398.0,680.2 C400.3,679.9 406.5,679.2 410.0,679.5 C413.5,679.8 421.3,681.4 424.0,682.4 C426.7,683.4 429.4,685.8 430.4,687.0 C431.4,688.2 431.8,690.5 431.6,691.6 C431.4,692.7 430.6,694.4 429.2,695.5 C427.8,696.6 422.1,699.2 421.0,699.8 " fill="none" stroke="#1e1e1e" stroke-width="1.7"/>
<circle cx="393" cy="677.5" r="2.2" fill="none" stroke="#1e1e1e" stroke-width="1.5"/>
<path d="M456.5,686 H471" stroke="#1e1e1e" stroke-width="1.5" fill="none" />
<path d="M553,287 L513.7,287" stroke="#1e1e1e" stroke-width="1.5" fill="none" />
<path d="M513.7,287 L513.7,571.6 L521,571.6" stroke="#4a4a4a" stroke-width="1.6" fill="none"/>
<path d="M513.7,494 L521,494" stroke="#1e1e1e" stroke-width="1.5" fill="none" />
<path d="M566,287 H576" stroke="#1e1e1e" stroke-width="1.5" fill="none" />
<path d="M540,494 H549" stroke="#1e1e1e" stroke-width="1.5" fill="none" />
<path d="M543,572 H549.5" stroke="#1e1e1e" stroke-width="1.5" fill="none" />
<path d="M577,280 L577,330 A13,5.5 0 0 0 603,330 L603,280 Z" fill="#fff" stroke="#1e1e1e" stroke-width="1.8"/>
<ellipse cx="590" cy="280" rx="13" ry="5.5" fill="#fff" stroke="#1e1e1e" stroke-width="1.8"/>
<ellipse cx="590" cy="280.8" rx="10.5" ry="3.8" fill="none" stroke="#333" stroke-width="1.2"/>
<path d="M600.5,295 L600.5,318" stroke="#1e1e1e" stroke-width="1" fill="none" stroke-dasharray="2 1"/>
<path d="M529.4,416.3 L530.5,409.7 L534,407.5 L540,407.8 L548,409 L552,406.4 L558,398.7 L565,396 L571.2,395.4 L581,395 L581,360.5 L589.3,358.5 L597.7,360.5 L597.7,398.7 L615.2,407.5 L622,408.5 L627.3,411.9 L628.8,416 L629,424 C628.7,424.9 628.9,428.0 627.3,429.5 C625.7,431.0 622.4,431.9 619.6,433.2 C616.9,434.5 613.7,436.0 610.8,437.4 C607.9,438.8 604.4,440.3 602.0,441.6 C599.6,442.9 598.3,443.5 596.5,445.0 C594.7,446.5 592.6,448.8 591.0,450.4 C589.4,452.0 588.4,453.6 586.6,454.8 C584.8,456.0 582.4,456.9 580.0,457.5 C577.6,458.1 574.5,458.6 572.3,458.3 C570.1,458.0 568.4,457.2 566.8,455.9 C565.1,454.6 563.9,452.2 562.4,450.6 C560.9,449.0 559.5,447.7 558.0,446.2 C556.5,444.7 555.4,443.4 553.6,441.8 C551.8,440.2 549.0,437.9 547.0,436.6 C545.0,435.3 543.3,434.4 541.5,434.2 C539.7,434.0 537.8,435.4 536.0,435.2 C534.2,435.0 531.8,434.1 530.5,433.0 C529.2,431.9 528.2,431.2 528.0,428.4 C527.8,425.6 529.2,418.3 529.4,416.3  Z" fill="#fff" stroke="#1e1e1e" stroke-width="2" stroke-linejoin="round"/>
<path d="M628.6,425.5 C627.1,426.2 622.6,428.6 619.6,430.0 C616.6,431.4 613.7,432.8 610.8,434.2 C607.9,435.6 604.4,437.0 602.0,438.2 C599.6,439.4 598.3,440.1 596.5,441.6 C594.7,443.1 592.6,445.4 591.0,447.0 C589.4,448.6 588.4,450.2 586.6,451.4 C584.8,452.6 582.4,453.4 580.0,454.0 C577.6,454.6 574.5,455.1 572.3,454.8 C570.1,454.5 568.4,453.7 566.8,452.4 C565.1,451.1 563.9,448.8 562.4,447.2 C560.9,445.6 559.5,444.3 558.0,442.8 C556.5,441.3 555.4,440.0 553.6,438.4 C551.8,436.8 549.0,434.6 547.0,433.4 C545.0,432.2 543.3,431.2 541.5,431.0 C539.7,430.8 537.8,432.2 536.0,432.0 C534.2,431.8 531.7,430.9 530.5,430.0 C529.3,429.1 528.9,427.1 528.6,426.5 " fill="none" stroke="#1e1e1e" stroke-width="1.6"/>
<g fill="none" stroke="#1e1e1e" stroke-width="1.5" stroke-linejoin="round">
<path d="M529.4,416.3 L545,419 L552,420.5 M595.4,421.8 L628.6,416 M529.4,416.3 L528.8,427"/>
<path d="M541.5,421 L541.5,430.5 M565.7,432 L565.7,446"/>
<ellipse cx="589.3" cy="361" rx="8.4" ry="2.8" stroke-width="1.8"/>
<path d="M594,366 L594,392" stroke-width="1" stroke-dasharray="2 1"/>
</g>
<path d="M552,406.2 L552,415.6 A22.3,10.8 0 0 0 596.6,415.6 L596.6,406.2 Z" fill="#fff" stroke="#1e1e1e" stroke-width="1.9"/>
<ellipse cx="574.3" cy="406.2" rx="22.3" ry="10.8" fill="#fff" stroke="#1e1e1e" stroke-width="1.9"/>
<ellipse cx="573.4" cy="404.8" rx="11" ry="5.2" fill="#fff" stroke="#1e1e1e" stroke-width="2"/>
<path d="M566,402 Q573.4,399.5 581,402 M570,401 L570,409 M576,401 L576,409.5" fill="none" stroke="#333" stroke-width="1.2"/>
<path d="M592,414 L592,425 M594.5,412 L594.5,423" fill="none" stroke="#1e1e1e" stroke-width="1.1"/>
<path d="M569,436 L569,452" fill="none" stroke="#1e1e1e" stroke-width="1.4"/>
<path d="M569,436 Q576.7,431 585,434 L585,449" fill="none" stroke="#1e1e1e" stroke-width="1.4"/>
<ellipse cx="576.2" cy="433.5" rx="3" ry="1.8" fill="#fff" stroke="#1e1e1e" stroke-width="1.6"/>
<path d="M576.7,423.5 L576.7,431" stroke="#1e1e1e" stroke-width="1.4"/>
<ellipse cx="538.2" cy="411.6" rx="2.8" ry="1.8" fill="none" stroke="#1e1e1e" stroke-width="1.6"/><ellipse cx="619.4" cy="411.6" rx="2.8" ry="1.8" fill="none" stroke="#1e1e1e" stroke-width="1.6"/>
<path d="M570.5,394 Q569.5,388 576,385 Q580.5,384 581,390 Q579,396.5 570.5,394 Z" fill="#fff" stroke="#1e1e1e" stroke-width="1.8"/>
<path d="M578,385.5 Q582,388 580,394" stroke="#1e1e1e" stroke-width="2.4" fill="none"/>
<path d="M534.9,338.6 L534.9,377.3 Q538.5,380.0 542.1,377.3 L542.1,338.6" fill="#fff" stroke="#1e1e1e" stroke-width="1.8"/><path d="M535.3,359.0 L541.7,359.6 M535.3,361.1 L541.7,361.7 M535.3,363.2 L541.7,363.8 M535.3,365.3 L541.7,365.9 M535.3,367.4 L541.7,368.0 M535.3,369.5 L541.7,370.1 M535.3,371.6 L541.7,372.2 M535.3,373.7 L541.7,374.3 M535.3,375.8 L541.7,376.4" stroke="#222" stroke-width="1.2"/><path d="M529.5,334.1 L530.5,336.6 Q538.5,341.1 546.5,336.6 L547.5,334.1 Z" fill="#fff" stroke="#1e1e1e" stroke-width="2"/><ellipse cx="538.5" cy="334.1" rx="9" ry="4.2" fill="#c8c8c8" stroke="#1e1e1e" stroke-width="2"/><path d="M532.9,325.1 L532.9,332.6 Q538.5,336.6 544.1,332.6 L544.1,325.1 Q538.5,320.1 532.9,325.1 Z" fill="#a0a0a0" stroke="#1e1e1e" stroke-width="2"/><ellipse cx="538.5" cy="325.2" rx="4.2" ry="2.2" fill="#f4f4f4"/><path d="M537.7,328.6 L539.3,328.6 L538.5,331.1 Z" fill="#eee"/><path d="M533.4,329.6 Q538.5,333.1 543.6,329.6 L543.6,332.6 Q538.5,336.6 533.4,332.6 Z" fill="#3a3a3a"/><path d="M533.7,326.1 Q538.5,329.1 543.3,326.1" fill="none" stroke="#333" stroke-width="1.3"/><path d="M531.0,335.3 Q534.0,337.9 532.9,335.6 M546.0,335.3 Q543.0,337.9 544.1,335.6" fill="none" stroke="#444" stroke-width="1.2"/>
<path d="M556.9,322.6 L556.9,360.1 Q560.5,362.8 564.1,360.1 L564.1,322.6" fill="#fff" stroke="#1e1e1e" stroke-width="1.8"/><path d="M557.3,346.0 L563.7,346.6 M557.3,348.1 L563.7,348.7 M557.3,350.2 L563.7,350.8 M557.3,352.3 L563.7,352.9 M557.3,354.4 L563.7,355.0 M557.3,356.5 L563.7,357.1 M557.3,358.6 L563.7,359.2" stroke="#222" stroke-width="1.2"/><path d="M551.5,318.1 L552.5,320.6 Q560.5,325.1 568.5,320.6 L569.5,318.1 Z" fill="#fff" stroke="#1e1e1e" stroke-width="2"/><ellipse cx="560.5" cy="318.1" rx="9" ry="4.2" fill="#c8c8c8" stroke="#1e1e1e" stroke-width="2"/><path d="M554.9,309.1 L554.9,316.6 Q560.5,320.6 566.1,316.6 L566.1,309.1 Q560.5,304.1 554.9,309.1 Z" fill="#a0a0a0" stroke="#1e1e1e" stroke-width="2"/><ellipse cx="560.5" cy="309.2" rx="4.2" ry="2.2" fill="#f4f4f4"/><path d="M559.7,312.6 L561.3,312.6 L560.5,315.1 Z" fill="#eee"/><path d="M555.4,313.6 Q560.5,317.1 565.6,313.6 L565.6,316.6 Q560.5,320.6 555.4,316.6 Z" fill="#3a3a3a"/><path d="M555.7,310.1 Q560.5,313.1 565.3,310.1" fill="none" stroke="#333" stroke-width="1.3"/><path d="M553.0,319.3 Q556.0,321.9 554.9,319.6 M568.0,319.3 Q565.0,321.9 566.1,319.6" fill="none" stroke="#444" stroke-width="1.2"/>
<path d="M615.6999999999999,340.5 L615.6999999999999,377.5 Q619.3,380.2 622.9,377.5 L622.9,340.5" fill="#fff" stroke="#1e1e1e" stroke-width="1.8"/><path d="M616.0999999999999,360.0 L622.5,360.6 M616.0999999999999,362.1 L622.5,362.7 M616.0999999999999,364.2 L622.5,364.8 M616.0999999999999,366.3 L622.5,366.9 M616.0999999999999,368.4 L622.5,369.0 M616.0999999999999,370.5 L622.5,371.1 M616.0999999999999,372.6 L622.5,373.2 M616.0999999999999,374.7 L622.5,375.3 M616.0999999999999,376.8 L622.5,377.4" stroke="#222" stroke-width="1.2"/><path d="M610.3,336.0 L611.3,338.5 Q619.3,343.0 627.3,338.5 L628.3,336.0 Z" fill="#fff" stroke="#1e1e1e" stroke-width="2"/><ellipse cx="619.3" cy="336.0" rx="9" ry="4.2" fill="#c8c8c8" stroke="#1e1e1e" stroke-width="2"/><path d="M613.7,327.0 L613.7,334.5 Q619.3,338.5 624.9,334.5 L624.9,327.0 Q619.3,322.0 613.7,327.0 Z" fill="#a0a0a0" stroke="#1e1e1e" stroke-width="2"/><ellipse cx="619.3" cy="327.1" rx="4.2" ry="2.2" fill="#f4f4f4"/><path d="M618.5,330.5 L620.0999999999999,330.5 L619.3,333.0 Z" fill="#eee"/><path d="M614.2,331.5 Q619.3,335.0 624.4,331.5 L624.4,334.5 Q619.3,338.5 614.2,334.5 Z" fill="#3a3a3a"/><path d="M614.5,328.0 Q619.3,331.0 624.1,328.0" fill="none" stroke="#333" stroke-width="1.3"/><path d="M611.8,337.2 Q614.8,339.8 613.7,337.5 M626.8,337.2 Q623.8,339.8 624.9,337.5" fill="none" stroke="#444" stroke-width="1.2"/>
<path d="M639.9,395 L639.9,429.5 Q643.5,432.2 647.1,429.5 L647.1,395" fill="#fff" stroke="#1e1e1e" stroke-width="1.8"/><path d="M640.3,413.0 L646.7,413.6 M640.3,415.1 L646.7,415.7 M640.3,417.2 L646.7,417.8 M640.3,419.3 L646.7,419.9 M640.3,421.4 L646.7,422.0 M640.3,423.5 L646.7,424.1 M640.3,425.6 L646.7,426.2 M640.3,427.7 L646.7,428.3" stroke="#222" stroke-width="1.2"/><path d="M634.5,390.5 L635.5,393.0 Q643.5,397.5 651.5,393.0 L652.5,390.5 Z" fill="#fff" stroke="#1e1e1e" stroke-width="2"/><ellipse cx="643.5" cy="390.5" rx="9" ry="4.2" fill="#c8c8c8" stroke="#1e1e1e" stroke-width="2"/><path d="M637.9,381.5 L637.9,389.0 Q643.5,393.0 649.1,389.0 L649.1,381.5 Q643.5,376.5 637.9,381.5 Z" fill="#a0a0a0" stroke="#1e1e1e" stroke-width="2"/><ellipse cx="643.5" cy="381.6" rx="4.2" ry="2.2" fill="#f4f4f4"/><path d="M642.7,385.0 L644.3,385.0 L643.5,387.5 Z" fill="#eee"/><path d="M638.4,386.0 Q643.5,389.5 648.6,386.0 L648.6,389.0 Q643.5,393.0 638.4,389.0 Z" fill="#3a3a3a"/><path d="M638.7,382.5 Q643.5,385.5 648.3,382.5" fill="none" stroke="#333" stroke-width="1.3"/><path d="M636.0,391.7 Q639.0,394.3 637.9,392.0 M651.0,391.7 Q648.0,394.3 649.1,392.0" fill="none" stroke="#444" stroke-width="1.2"/>
<path d="M538,311 V322" stroke="#1e1e1e" stroke-width="1.5" fill="none" />
<path d="M564.5,346 H578" stroke="#1e1e1e" stroke-width="1.5" fill="none" />
<path d="M627.5,338 H641" stroke="#1e1e1e" stroke-width="1.5" fill="none" />
<path d="M651.5,390 H662" stroke="#1e1e1e" stroke-width="1.5" fill="none" />
<path d="M502,418 H528" stroke="#1e1e1e" stroke-width="1.5" fill="none" />
<path d="M538.2,381 V408" stroke="#1e1e1e" stroke-width="1.2" fill="none" stroke-dasharray="2.5 1.2"/>
<path d="M619.4,382 V408" stroke="#1e1e1e" stroke-width="1.2" fill="none" stroke-dasharray="2.5 1.2"/>
<path d="M559.9,367.5 L559.9,387.8 L576,381.5" stroke="#1e1e1e" stroke-width="1.4" fill="none" />
<path d="M643.2,434 L643.2,452.9 L585.8,428.4" stroke="#1e1e1e" stroke-width="1.4" fill="none" />
<path d="M598.4,399.7 L616,407" stroke="#1e1e1e" stroke-width="1.2" fill="none" />
<path d="M549,480 L549,503 A26,10 0 0 0 601,503 L601,480 Z" fill="#fff" stroke="#1e1e1e" stroke-width="1.9"/>
<ellipse cx="575" cy="480" rx="26" ry="10" fill="#fff" stroke="#1e1e1e" stroke-width="1.9"/>
<ellipse cx="575.6" cy="483.2" rx="11.5" ry="5" fill="#fff" stroke="#1e1e1e" stroke-width="1.8"/>
<path d="M565,486 Q575.6,484 586,486" fill="none" stroke="#333" stroke-width="1"/>
<path d="M572,470 Q590,470 597,480 L597,485" fill="none" stroke="#1e1e1e" stroke-width="2.4"/>
<circle cx="572" cy="470.5" r="1.6" class="f"/><circle cx="596.5" cy="484" r="1.6" class="f"/>
<path d="M571.0,519.6 L578.8,519.9 L578.8,529.4 L571.0,529.1 Z" fill="#c4c4c4" stroke="#1e1e1e" stroke-width="1.5" stroke-linejoin="round"/>
<path d="M571.2,525.3 L571.0,519.6 L571.0,529.1 L571.2,534.8 Z" fill="#c4c4c4" stroke="#1e1e1e" stroke-width="1.5" stroke-linejoin="round"/>
<path d="M578.8,519.9 L576.9,525.6 L576.9,535.1 L578.8,529.4 Z" fill="#c4c4c4" stroke="#1e1e1e" stroke-width="1.5" stroke-linejoin="round"/>
<path d="M553.9,525.0 L559.2,522.0 L559.2,531.5 L553.9,534.5 Z" fill="#c4c4c4" stroke="#1e1e1e" stroke-width="1.5" stroke-linejoin="round"/>
<path d="M559.2,522.0 L566.6,526.3 L566.6,535.8 L559.2,531.5 Z" fill="#c4c4c4" stroke="#1e1e1e" stroke-width="1.5" stroke-linejoin="round"/>
<path d="M589.8,523.2 L594.1,526.5 L594.1,536.0 L589.8,532.7 Z" fill="#c4c4c4" stroke="#1e1e1e" stroke-width="1.5" stroke-linejoin="round"/>
<path d="M581.2,526.9 L589.8,523.2 L589.8,532.7 L581.2,536.4 Z" fill="#c4c4c4" stroke="#1e1e1e" stroke-width="1.5" stroke-linejoin="round"/>
<path d="M566.6,526.3 L571.2,525.3 L571.2,534.8 L566.6,535.8 Z" fill="#c4c4c4" stroke="#1e1e1e" stroke-width="1.5" stroke-linejoin="round"/>
<path d="M576.9,525.6 L581.2,526.9 L581.2,536.4 L576.9,535.1 Z" fill="#c4c4c4" stroke="#1e1e1e" stroke-width="1.5" stroke-linejoin="round"/>
<path d="M562.7,528.5 L553.9,525.0 L553.9,534.5 L562.7,538.0 Z" fill="#c4c4c4" stroke="#1e1e1e" stroke-width="1.5" stroke-linejoin="round"/>
<path d="M594.1,526.5 L584.4,529.3 L584.4,538.8 L594.1,536.0 Z" fill="#c4c4c4" stroke="#1e1e1e" stroke-width="1.5" stroke-linejoin="round"/>
<path d="M561.2,530.9 L562.7,528.5 L562.7,538.0 L561.2,540.4 Z" fill="#c4c4c4" stroke="#1e1e1e" stroke-width="1.5" stroke-linejoin="round"/>
<path d="M584.4,529.3 L585.2,531.9 L585.2,541.4 L584.4,538.8 Z" fill="#c4c4c4" stroke="#1e1e1e" stroke-width="1.5" stroke-linejoin="round"/>
<path d="M550.2,531.2 L561.2,530.9 L561.2,540.4 L550.2,540.7 Z" fill="#c4c4c4" stroke="#1e1e1e" stroke-width="1.5" stroke-linejoin="round"/>
<path d="M585.2,531.9 L596.0,533.1 L596.0,542.6 L585.2,541.4 Z" fill="#c4c4c4" stroke="#1e1e1e" stroke-width="1.5" stroke-linejoin="round"/>
<path d="M551.4,535.2 L550.2,531.2 L550.2,540.7 L551.4,544.7 Z" fill="#c4c4c4" stroke="#1e1e1e" stroke-width="1.5" stroke-linejoin="round"/>
<path d="M562.1,533.9 L551.4,535.2 L551.4,544.7 L562.1,543.4 Z" fill="#c4c4c4" stroke="#1e1e1e" stroke-width="1.5" stroke-linejoin="round"/>
<path d="M564.9,536.0 L562.1,533.9 L562.1,543.4 L564.9,545.5 Z" fill="#c4c4c4" stroke="#1e1e1e" stroke-width="1.5" stroke-linejoin="round"/>
<path d="M596.0,533.1 L593.7,536.9 L593.7,546.4 L596.0,542.6 Z" fill="#c4c4c4" stroke="#1e1e1e" stroke-width="1.5" stroke-linejoin="round"/>
<path d="M583.5,534.7 L580.1,536.6 L580.1,546.1 L583.5,544.2 Z" fill="#c4c4c4" stroke="#1e1e1e" stroke-width="1.5" stroke-linejoin="round"/>
<path d="M593.7,536.9 L583.5,534.7 L583.5,544.2 L593.7,546.4 Z" fill="#c4c4c4" stroke="#1e1e1e" stroke-width="1.5" stroke-linejoin="round"/>
<path d="M574.8,537.7 L569.8,537.5 L569.8,547.0 L574.8,547.2 Z" fill="#c4c4c4" stroke="#1e1e1e" stroke-width="1.5" stroke-linejoin="round"/>
<path d="M558.5,540.7 L564.9,536.0 L564.9,545.5 L558.5,550.2 Z" fill="#c4c4c4" stroke="#1e1e1e" stroke-width="1.5" stroke-linejoin="round"/>
<path d="M580.1,536.6 L585.1,541.7 L585.1,551.2 L580.1,546.1 Z" fill="#c4c4c4" stroke="#1e1e1e" stroke-width="1.5" stroke-linejoin="round"/>
<path d="M569.8,537.5 L565.2,542.7 L565.2,552.2 L569.8,547.0 Z" fill="#c4c4c4" stroke="#1e1e1e" stroke-width="1.5" stroke-linejoin="round"/>
<path d="M577.8,543.2 L574.8,537.7 L574.8,547.2 L577.8,552.7 Z" fill="#c4c4c4" stroke="#1e1e1e" stroke-width="1.5" stroke-linejoin="round"/>
<path d="M565.2,542.7 L558.5,540.7 L558.5,550.2 L565.2,552.2 Z" fill="#c4c4c4" stroke="#1e1e1e" stroke-width="1.5" stroke-linejoin="round"/>
<path d="M585.1,541.7 L577.8,543.2 L577.8,552.7 L585.1,551.2 Z" fill="#c4c4c4" stroke="#1e1e1e" stroke-width="1.5" stroke-linejoin="round"/>
<path d="M585.2,531.9 L596.0,533.1 L593.7,536.9 L583.5,534.7 L580.1,536.6 L585.1,541.7 L577.8,543.2 L574.8,537.7 L569.8,537.5 L565.2,542.7 L558.5,540.7 L564.9,536.0 L562.1,533.9 L551.4,535.2 L550.2,531.2 L561.2,530.9 L562.7,528.5 L553.9,525.0 L559.2,522.0 L566.6,526.3 L571.2,525.3 L571.0,519.6 L578.8,519.9 L576.9,525.6 L581.2,526.9 L589.8,523.2 L594.1,526.5 L584.4,529.3 Z" fill="#fff" stroke="#1e1e1e" stroke-width="1.8" stroke-linejoin="round"/>
<ellipse cx="573.5" cy="531" rx="7.5" ry="3.8" fill="#fff" stroke="#1e1e1e" stroke-width="1.8"/>
<ellipse cx="573.5" cy="531" rx="3.8" ry="1.9" fill="#888" stroke="#1e1e1e" stroke-width="1.2"/>
<path d="M597,537 H611.6" stroke="#1e1e1e" stroke-width="1.5" fill="none" />
<ellipse cx="575.6" cy="571" rx="25.6" ry="12.3" fill="none" stroke="#1e1e1e" stroke-width="1.9"/>
<ellipse cx="575.6" cy="570.8" rx="22" ry="9" fill="none" stroke="#1e1e1e" stroke-width="1.6"/>
<ellipse cx="575.6" cy="570.6" rx="23.8" ry="10.6" fill="none" stroke="#999" stroke-width="1.2"/>
<rect x="736.5" y="274.5" width="39" height="40.5" fill="none" stroke="#1e1e1e" stroke-width="1.4" stroke-dasharray="4.5 2.5"/>
<path d="M743.6,299 L744.3,303.5 Q755.3,310.5 766.3,303.5 L767,299 Q755.3,293 743.6,299 Z" fill="#fff" stroke="#1e1e1e" stroke-width="1.9"/>
<path d="M745.2,291.5 L745.2,297.5 Q755.3,303 765.4,297.5 L765.4,291.5 Z" fill="#fff" stroke="#1e1e1e" stroke-width="1.9"/>
<path d="M745.6,285 L745.6,290 Q755.1,295 764.6,290 L764.6,285 Z" fill="#fff" stroke="#1e1e1e" stroke-width="1.9"/>
<ellipse cx="755.1" cy="285" rx="9.5" ry="4.2" fill="#fff" stroke="#1e1e1e" stroke-width="1.9"/>
<ellipse cx="755.1" cy="284.6" rx="4.2" ry="2" fill="#bbb" stroke="#333" stroke-width="1.3"/>
<path d="M746,294.5 Q755.3,299 764.8,294.5 M744.5,302 Q755.3,307.5 766,302 M747,288 Q755,291.5 763,288" fill="none" stroke="#555" stroke-width="1"/>
<path d="M779,286.5 L786.8,286.5 L786.8,280.6 L799,295 L786.8,309.4 L786.8,303 L779,303 Z" fill="#fff" stroke="#222" stroke-width="1.8" stroke-linejoin="round"/>
<path d="M756.2,322 L756.2,380 Q756.2,392 750,402 L692,492 Q686,502 686,512 L686,694" stroke="#1e1e1e" stroke-width="13" fill="none" stroke-linecap="butt" stroke-linejoin="round"/>
<path d="M756.2,322 L756.2,380 Q756.2,392 750,402 L692,492 Q686,502 686,512 L686,694" stroke="#fff" stroke-width="9.4" fill="none" stroke-linecap="butt" stroke-linejoin="round"/>
<ellipse cx="756.2" cy="322" rx="6.1" ry="2.6" fill="#fff" stroke="#1e1e1e" stroke-width="1.8"/>
<path d="M747,345 Q756,342 765,345 L765,351 Q756,355 747,351 Z" fill="#fff" stroke="#1e1e1e" stroke-width="1.8"/>
<path d="M748,348 Q756,351 764,348" fill="none" stroke="#333" stroke-width="1.2"/>
<path d="M676.5,654 Q685,651 694,654 L694,658.5 Q685,662 676.5,658.5 Z" fill="#fff" stroke="#1e1e1e" stroke-width="1.8"/>
<path d="M680.2,693 L680.2,697.5 Q680.5,700 683,701.2 L689,704.8" fill="none" stroke="#1e1e1e" stroke-width="2.6" stroke-linecap="round"/>
<path d="M681.5,695 L688,700 L690.5,702.5 M691.8,693 L691.6,702" fill="none" stroke="#1e1e1e" stroke-width="1.3"/>
<path d="M662,599.6 H679.5" stroke="#1e1e1e" stroke-width="1.5" fill="none" />
<path d="M729.6,512.8 L729.6,624 Q740,632 750.6,624 L750.6,512.8 Z" fill="#fff" stroke="#1e1e1e" stroke-width="1.8"/>
<ellipse cx="740.1" cy="512.8" rx="10.5" ry="4.2" fill="#fff" stroke="#1e1e1e" stroke-width="1.8"/>
<ellipse cx="740.1" cy="513.3" rx="7" ry="2.6" fill="none" stroke="#333" stroke-width="1.3"/>
<path d="M750.6,568.8 H766" stroke="#1e1e1e" stroke-width="1.5" fill="none" />
<path d="M729.5,644 L730.5,651 Q742,660 754.5,651 L755.7,644 Q742,636 729.5,644 Z" fill="#fff" stroke="#1e1e1e" stroke-width="2.4"/>
<path d="M730.5,651 Q742,660 754.5,651 L754,654 Q742,661 731,654 Z" fill="#333"/>
<path d="M732.6,637 L732.6,643 Q741,648 749.4,643 L749.4,637 Q741,632 732.6,637 Z" fill="#fff" stroke="#1e1e1e" stroke-width="2.2"/>
<ellipse cx="741" cy="636.5" rx="5" ry="2.2" fill="#777" stroke="#333" stroke-width="1.3"/>
<path d="M733,641 Q741,646 749,641" fill="none" stroke="#333" stroke-width="1.8"/>
<path d="M731,648 Q742,654 754,648" fill="none" stroke="#444" stroke-width="1.2"/>
<path d="M756,644.5 H770" stroke="#1e1e1e" stroke-width="1.5" fill="none" />
<path d="M774.1,360.9 C774.4,359.7 775.8,356.7 777.6,355.3 C779.4,353.9 783.5,352.6 786.0,351.8 C788.5,351.0 792.3,350.0 794.4,349.7 C796.5,349.4 798.5,349.5 800.0,350.0 C801.5,350.5 803.6,352.2 804.2,353.2 C804.8,354.2 804.8,355.4 804.2,356.7 C803.6,358.0 801.5,360.2 800.0,361.6 C798.5,363.0 796.2,364.8 794.4,365.8 C792.6,366.9 789.5,368.3 788.1,368.6 C786.7,368.9 785.9,368.3 785.3,367.9 C784.7,367.5 783.9,366.4 783.9,365.8 C783.9,365.2 784.8,364.3 785.3,363.7 C785.8,363.1 787.3,362.2 787.4,361.6 C787.5,361.0 786.8,359.9 786.0,359.5 C785.2,359.1 783.0,358.5 781.8,358.8 C780.6,359.1 779.2,361.0 778.3,361.6 C777.4,362.2 776.1,363.1 775.5,363.0 C774.9,362.9 773.8,362.1 774.1,360.9 Z" fill="#fff" stroke="#1e1e1e" stroke-width="2.1" stroke-linejoin="round"/>
<path d="M775,362.5 Q777,360 779,360.5 M787,362.5 Q786,366 788,367 M788.5,366.5 L800,359.5 Q803.5,357 804,354.5" fill="none" stroke="#1e1e1e" stroke-width="1.7"/>
<ellipse cx="797.2" cy="352.2" rx="1.9" ry="1.4" class="f"/>
<path d="M797.2,344.5 V351" stroke="#1e1e1e" stroke-width="1.4" fill="none" />
<path d="M797.2,366.5 V374" stroke="#1e1e1e" stroke-width="1.4" fill="none" />
<path d="M805,355 H818" stroke="#1e1e1e" stroke-width="1.5" fill="none" />
<path d="M794.6,374.5 L794.6,386 M799.8,374.5 L799.8,386" stroke="#1e1e1e" stroke-width="1.8"/>
<path d="M794.6,377 h5.2 M794.6,379.5 h5.2 M794.6,382 h5.2" stroke="#333" stroke-width="1.3"/>
<path d="M791,388 L791.5,394 Q797,398.5 802.5,394 L803,388 Z" fill="#fff" stroke="#1e1e1e" stroke-width="2.2" stroke-linejoin="round"/>
<ellipse cx="797" cy="387.2" rx="7.3" ry="3" fill="#fff" stroke="#1e1e1e" stroke-width="2.2"/>
<path d="M794,390 L794,396 M800,390 L800,396" stroke="#1e1e1e" stroke-width="1.4"/>
<ellipse cx="797.2" cy="394.5" rx="1.5" ry="1" fill="#fff"/>
<path d="M804.5,388 H819" stroke="#1e1e1e" stroke-width="1.5" fill="none" />
<rect x="858.2" y="318" width="12.4" height="252" fill="#fff" stroke="#1e1e1e" stroke-width="1.8"/>
<path d="M859.3,288 L859.3,316 L869.7,316 L869.7,288 Z" fill="#fff" stroke="#1e1e1e" stroke-width="1.7"/>
<path d="M862,289 V315 M864.5,289 V315 M867,289 V315" stroke="#333" stroke-width="1.1"/>
<path d="M863.5,290 V314" stroke="#1e1e1e" stroke-width="2.5"/>
<path d="M859.3,288 Q859.3,281 864.5,281 Q869.7,281 869.7,288 Z" fill="#1e1e1e"/>
<ellipse cx="864.5" cy="284" rx="2.5" ry="1.3" fill="#fff"/>
<path d="M857.6,316 Q864.5,314 871.3,316 L871.3,320 Q864.5,322.5 857.6,320 Z" fill="#1e1e1e"/>
<path d="M858.2,331.5 Q864.5,334 870.6,331.5 M858.2,457.5 Q864.5,459.5 870.6,457.5 M858.2,460.5 Q864.5,462.5 870.6,460.5 M858.2,488.5 Q864.5,490 870.6,487" fill="none" stroke="#1e1e1e" stroke-width="1.4"/>
<rect x="860.5" y="476" width="5.5" height="9" rx="1" fill="#fff" stroke="#1e1e1e" stroke-width="1.5"/>
<path d="M858.5,570 L858.5,594 Q864.5,600 870.5,594 L870.5,570 Z" fill="#fff" stroke="#1e1e1e" stroke-width="1.9"/>
<path d="M861,572 V594 M864.5,572 V596 M868,572 V594" stroke="#333" stroke-width="1.3"/>
<path d="M858.5,576 Q864.5,578 870.5,576" fill="none" stroke="#1e1e1e" stroke-width="1.3"/>
<path d="M860,596 Q864.5,600 869,596" fill="none" stroke="#1e1e1e" stroke-width="2.2"/>
<path d="M872,441 H885" stroke="#1e1e1e" stroke-width="1.5" fill="none" />
<path d="M836.8,489.4 L833.2,495 L833.2,502.2 L842.3,502.2 L842.3,495.6 Z" fill="#fff" stroke="#1e1e1e" stroke-width="2.3" stroke-linejoin="round"/>
<path d="M834,497.2 Q838,495 841.5,497" fill="none" stroke="#1e1e1e" stroke-width="1.4"/>
<circle cx="838" cy="499.3" r="1.1" fill="#555"/>
<path d="M818,496.7 H832.5" stroke="#1e1e1e" stroke-width="1.5" fill="none" />
<path d="M858.5,606 Q858,602.5 864,602.8 Q871,603 870.8,606.5 Q870.5,609.5 864,609.3 Q860,609 859.5,607.5" fill="#aaa" stroke="#1e1e1e" stroke-width="2"/>
<path d="M863,603 L863,609 M866.5,603.5 Q868,606 866,608.5" fill="none" stroke="#1e1e1e" stroke-width="1.3"/>
<path d="M843,604.7 H858" stroke="#1e1e1e" stroke-width="1.5" fill="none" />
<path d="M849,628 L849,630.8 A14.7,7 0 0 0 878.4,630.8 L878.4,628 Z" fill="#fff" stroke="#1e1e1e" stroke-width="1.8"/>
<ellipse cx="863.7" cy="628" rx="14.7" ry="7" fill="#fff" stroke="#1e1e1e" stroke-width="1.8"/>
<ellipse cx="863.7" cy="627.5" rx="5" ry="2.6" fill="#8a8a8a" stroke="#1e1e1e" stroke-width="2"/>
<ellipse cx="863.7" cy="627.2" rx="2.4" ry="1.2" fill="#ddd" stroke="none"/>
<path d="M849,649 L849,651.8 A14.7,7 0 0 0 878.4,651.8 L878.4,649 Z" fill="#fff" stroke="#1e1e1e" stroke-width="1.8"/>
<ellipse cx="863.7" cy="649" rx="14.7" ry="7" fill="#fff" stroke="#1e1e1e" stroke-width="1.8"/>
<ellipse cx="863.7" cy="648.5" rx="5" ry="2.6" fill="#8a8a8a" stroke="#1e1e1e" stroke-width="2"/>
<ellipse cx="863.7" cy="648.2" rx="2.4" ry="1.2" fill="#ddd" stroke="none"/>
<path d="M835,629.4 H848.5" stroke="#1e1e1e" stroke-width="1.5" fill="none" />
<path d="M835,650.4 H848.5" stroke="#1e1e1e" stroke-width="1.4" fill="none" stroke-dasharray="2 1"/>
<clipPath id="gclip"><path d="M849,668.6 C847,672 846.5,676 847.2,680 C848,686 851,691 856,693.8 C860,695.5 870,695.5 876.3,693.8 C880,690 882.6,684 882.6,678.4 C882.6,674 881.5,671 880.5,668.6 Z"/></clipPath>
<path d="M849,668.6 C847,672 846.5,676 847.2,680 C848,686 851,691 856,693.8 C860,695.5 870,695.5 876.3,693.8 C880,690 882.6,684 882.6,678.4 C882.6,674 881.5,671 880.5,668.6 Z" fill="#fff" stroke="#1e1e1e" stroke-width="2"/>
<g clip-path="url(#gclip)" stroke="#1e1e1e" stroke-width="1.7" fill="none">
<path d="M843.0,672 C846.0,680 848.0,688 851.0,697"/>
<path d="M847.6,672 C850.6,680 852.6,688 855.6,697"/>
<path d="M852.2,672 C855.2,680 857.2,688 860.2,697"/>
<path d="M856.8,672 C859.8,680 861.8,688 864.8,697"/>
<path d="M861.4,672 C864.4,680 866.4,688 869.4,697"/>
<path d="M866.0,672 C869.0,680 871.0,688 874.0,697"/>
<path d="M870.6,672 C873.6,680 875.6,688 878.6,697"/>
<path d="M875.2,672 C878.2,680 880.2,688 883.2,697"/>
<path d="M879.8,672 C882.8,680 884.8,688 887.8,697"/>
</g>
<ellipse cx="864.4" cy="668.6" rx="15.8" ry="6.6" fill="#fff" stroke="#1e1e1e" stroke-width="2"/>
<ellipse cx="864" cy="668.2" rx="7.3" ry="3.5" fill="#777" stroke="#1e1e1e" stroke-width="2"/>
<path d="M848.5,672.5 Q864,681 880.8,672.5" fill="none" stroke="#1e1e1e" stroke-width="1.3"/>
<path d="M834,678.4 H847.6" stroke="#1e1e1e" stroke-width="1.5" fill="none" />
<path d="M856.5,704 Q856,700 864.5,700 Q873,700 872.8,704.5 Q872.5,709.5 864.5,710.5 Q857,710 856.5,704 Z" fill="#999" stroke="#1e1e1e" stroke-width="2"/>
<path d="M857,705 Q862,702 866,704 M862,702 L862,709 M866,703 L868,709" fill="none" stroke="#1e1e1e" stroke-width="1.5"/>
<path d="M840.6,705 H856" stroke="#1e1e1e" stroke-width="1.5" fill="none" />
</svg></body></html>
